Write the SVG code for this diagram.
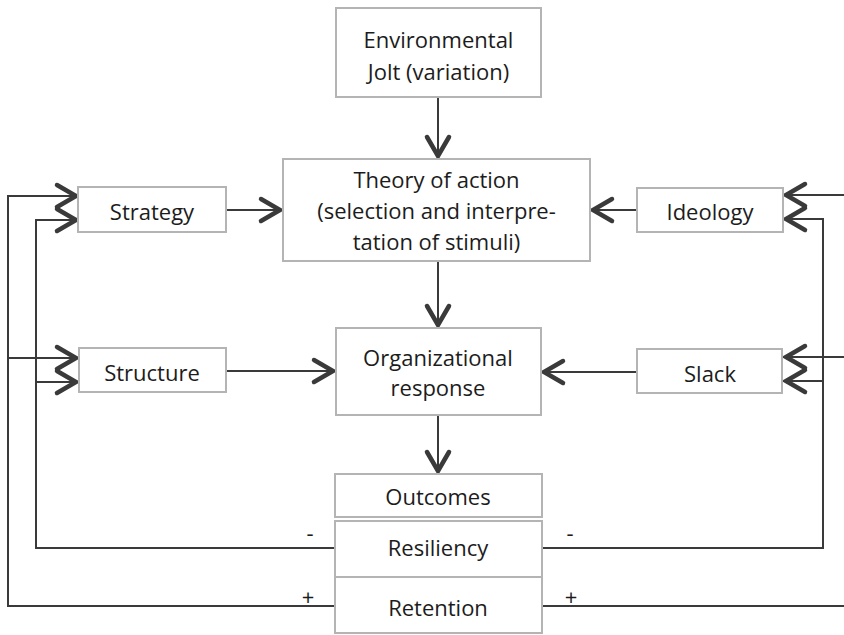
<svg xmlns="http://www.w3.org/2000/svg" width="844" height="635" viewBox="0 0 844 635">
  <style>
    .box { fill: #ffffff; stroke: #b4b4b4; stroke-width: 2; }
    .lbl { font-family: "Open Sans", "Liberation Sans", sans-serif; font-size: 22px; fill: #1c1c1c; text-anchor: middle; }
    .wire { fill: none; stroke: #3a3a3a; stroke-width: 2; }
    .arrow { marker-end: url(#chev); }
  </style>
  <defs>
    <!-- open chevron arrowhead, tip placed at the end of the line -->
    <marker id="chev" markerUnits="userSpaceOnUse" viewBox="-26 -15 30 30" markerWidth="30" markerHeight="30" refX="0" refY="0" orient="auto" overflow="visible">
      <path d="M-22,-11 L-3,0 L-22,11" fill="none" stroke="#3a3a3a" stroke-width="4.5" stroke-linecap="round" stroke-linejoin="miter"/>
    </marker>
  </defs>

  <rect width="844" height="635" fill="#ffffff"/>

  <!-- connectors -->
  <g id="connectors">
    <!-- main vertical chain -->
    <path class="wire arrow" d="M438,97 V159"/>
    <path class="wire arrow" d="M438,261 V328"/>
    <path class="wire arrow" d="M438,415 V474"/>
    <!-- side inputs into theory of action / organizational response -->
    <path class="wire arrow" d="M226,210 H283"/>
    <path class="wire arrow" d="M637,210 H590"/>
    <path class="wire arrow" d="M226,371 H336"/>
    <path class="wire arrow" d="M637,372 H541"/>
    <!-- left feedback: retention (+) outer loop -->
    <path class="wire arrow" d="M335,606 H8 V196 H79"/>
    <path class="wire arrow" d="M8,358 H79"/>
    <!-- left feedback: resiliency (-) inner loop -->
    <path class="wire arrow" d="M335,548 H36 V220 H79"/>
    <path class="wire arrow" d="M36,382 H79"/>
    <!-- right feedback: retention (+) outer loop -->
    <path class="wire arrow" d="M542,606 H852 V195 H783"/>
    <path class="wire arrow" d="M852,357 H783"/>
    <!-- right feedback: resiliency (-) inner loop -->
    <path class="wire arrow" d="M542,548 H823 V219 H783"/>
    <path class="wire arrow" d="M823,381 H783"/>
    <!-- loop polarity signs -->
    <text class="lbl" x="310" y="541">-</text>
    <text class="lbl" x="570" y="541">-</text>
    <text class="lbl" x="308" y="605">+</text>
    <text class="lbl" x="571" y="605">+</text>
  </g>

  <g id="environmental-jolt">
    <rect class="box" x="336" y="8" width="205" height="89"/>
    <text class="lbl" x="438.5" y="48">Environmental</text>
    <text class="lbl" x="438.5" y="80">Jolt (variation)</text>
  </g>

  <g id="theory-of-action">
    <rect class="box" x="283" y="159" width="307" height="102"/>
    <text class="lbl" x="436.5" y="188">Theory of action</text>
    <text class="lbl" x="436.5" y="219">(selection and interpre-</text>
    <text class="lbl" x="436.5" y="250">tation of stimuli)</text>
  </g>

  <g id="strategy">
    <rect class="box" x="78" y="187" width="148" height="45"/>
    <text class="lbl" x="152" y="220">Strategy</text>
  </g>

  <g id="ideology">
    <rect class="box" x="637" y="188" width="146" height="44"/>
    <text class="lbl" x="710" y="220">Ideology</text>
  </g>

  <g id="structure">
    <rect class="box" x="79" y="348" width="147" height="44"/>
    <text class="lbl" x="152" y="381">Structure</text>
  </g>

  <g id="slack">
    <rect class="box" x="637" y="349" width="145" height="44"/>
    <text class="lbl" x="710" y="382">Slack</text>
  </g>

  <g id="organizational-response">
    <rect class="box" x="336" y="328" width="205" height="87"/>
    <text class="lbl" x="438" y="366">Organizational</text>
    <text class="lbl" x="438" y="396">response</text>
  </g>

  <g id="outcomes">
    <rect class="box" x="335" y="474" width="207" height="43"/>
    <text class="lbl" x="438" y="505">Outcomes</text>
  </g>

  <g id="resiliency">
    <rect class="box" x="335" y="521" width="207" height="56"/>
    <text class="lbl" x="438" y="556">Resiliency</text>
  </g>

  <g id="retention">
    <rect class="box" x="335" y="577" width="207" height="56"/>
    <text class="lbl" x="438" y="616">Retention</text>
  </g>
</svg>
